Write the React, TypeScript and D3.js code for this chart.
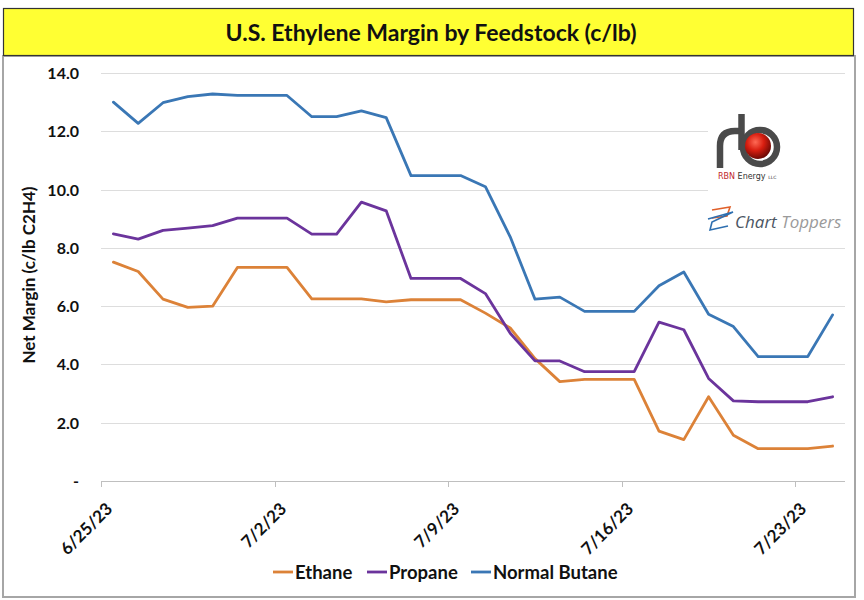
import React from "react";
import * as d3 from "d3";

const dates = [
  "2023-06-25","2023-06-26","2023-06-27","2023-06-28","2023-06-29","2023-06-30",
  "2023-07-01","2023-07-02","2023-07-03","2023-07-04","2023-07-05","2023-07-06",
  "2023-07-07","2023-07-08","2023-07-09","2023-07-10","2023-07-11","2023-07-12",
  "2023-07-13","2023-07-14","2023-07-15","2023-07-16","2023-07-17","2023-07-18",
  "2023-07-19","2023-07-20","2023-07-21","2023-07-22","2023-07-23","2023-07-24",
];
const ethane = [7.51,7.19,6.24,5.96,6.0,7.33,7.33,7.33,6.25,6.25,6.25,6.15,6.22,6.22,6.22,5.76,5.25,4.2,3.41,3.49,3.49,3.49,1.71,1.42,2.89,1.57,1.11,1.11,1.11,1.2];
const propane = [8.48,8.3,8.6,8.68,8.76,9.02,9.02,9.02,8.47,8.47,9.57,9.27,6.95,6.95,6.95,6.43,5.07,4.12,4.12,3.75,3.75,3.75,5.45,5.19,3.52,2.75,2.72,2.72,2.72,2.89];
const butane = [13.0,12.27,12.98,13.19,13.28,13.23,13.23,13.23,12.5,12.5,12.7,12.47,10.48,10.48,10.48,10.1,8.38,6.24,6.31,5.82,5.82,5.82,6.7,7.17,5.72,5.3,4.27,4.27,4.27,5.7];
const seriesNames = ["Ethane", "Propane", "Normal Butane"];
const seriesColors = ["#DC8238", "#6B349C", "#3A77B5"];
const tickDates = ["2023-06-25","2023-07-02","2023-07-09","2023-07-16","2023-07-23"];
const tickLabels = ["6/25/23","7/2/23","7/9/23","7/16/23","7/23/23"];
const yTicks = [0, 2, 4, 6, 8, 10, 12, 14];

const parse = d3.utcParse("%Y-%m-%d");
const FONT = "Lato, 'Open Sans', sans-serif";

export default function App() {
  const left = 101, right = 845, top = 73, bottom = 481;
  const x = d3.scaleUtc()
    .domain([parse("2023-06-25")!, parse("2023-07-25")!])
    .range([left, right]);
  const y = d3.scaleLinear().domain([0, 14]).range([bottom, top]);
  const allSeries = [ethane, propane, butane];
  const line = d3.line<number>()
    .x((_, i) => x(d3.utcHour.offset(parse(dates[i])!, 12)))
    .y((v) => y(v));

  const legendX = [273, 367, 471];

  return (
    <div style={{ position: "absolute", left: 0, top: 0 }}>
      <svg width={864} height={600} style={{ display: "block", background: "#fff" }}>
        {/* outer frame */}
        <rect x={3} y={56} width={852} height={541} fill="#fff" stroke="#A6A6A6" strokeWidth={2} />
        {/* title box */}
        <rect x={3.5} y={8.5} width={850} height={47} fill="#FFFF33" stroke="#333" strokeWidth={1.2} />
        <text x={431} y={41} textAnchor="middle" fontFamily={FONT} fontWeight={700} fontSize={23} fill="#111">
          U.S. Ethylene Margin by Feedstock (c/lb)
        </text>

        {/* gridlines */}
        {yTicks.map((t) => (
          <line key={t} x1={left} x2={right} y1={Math.round(y(t)) + 0.5} y2={Math.round(y(t)) + 0.5}
            stroke={t === 0 ? "#BFBFBF" : "#DDDDDD"} strokeWidth={1} />
        ))}
        {/* y tick labels */}
        {yTicks.map((t) => (
          <text key={"l" + t} x={79} y={y(t) + 6} textAnchor="end" fontFamily={FONT} fontWeight={700} fontSize={16} fill="#111">
            {t === 0 ? "-" : t.toFixed(1)}
          </text>
        ))}
        <text transform={`translate(35,${(top + bottom) / 2 - 2}) rotate(-90)`} textAnchor="middle"
          fontFamily={FONT} fontWeight={700} fontSize={17} fill="#111">
          Net Margin (c/lb C2H4)
        </text>

        {/* x ticks and labels */}
        {tickDates.map((d, i) => {
          const xx = Math.round(x(parse(d)!)) + 0.5;
          return (
            <g key={d}>
              <line x1={xx} x2={xx} y1={bottom} y2={bottom + 6} stroke="#BFBFBF" />
              <text transform={`translate(${xx + 12},${bottom + 29}) rotate(-45)`} textAnchor="end"
                fontFamily={FONT} fontWeight={700} fontSize={17} fill="#111">
                {tickLabels[i]}
              </text>
            </g>
          );
        })}

        {/* logo background */}
        <rect x={708} y={100} width={139} height={143} fill="#fff" />
        {/* RBN logo */}
        <g>
          <defs>
            <radialGradient id="redball" cx="40%" cy="35%" r="65%">
              <stop offset="0%" stopColor="#FF6A55" />
              <stop offset="50%" stopColor="#D81E10" />
              <stop offset="100%" stopColor="#6E0A05" />
            </radialGradient>
          </defs>
          <path d="M720 168 L720 146 Q720 131 735 131 L741 131" fill="none" stroke="#4A4A4A" strokeWidth={6.5} />
          <path d="M741.5 114 L741.5 150" fill="none" stroke="#4A4A4A" strokeWidth={6.5} />
          <circle cx={760} cy={147} r={17} fill="none" stroke="#4A4A4A" strokeWidth={6.5} />
          <circle cx={758} cy={146} r={13} fill="url(#redball)" />
          <text x={718} y={179} fontFamily="'DejaVu Sans', sans-serif" fontSize={8} fill="#333">
            <tspan fill="#C0272D">RBN</tspan> Energy <tspan fontSize={4.5}>LLC</tspan>
          </text>
        </g>
        {/* Chart Toppers logo */}
        <g>
          <path d="M712 210 L730 207 L727 216 L712 218" fill="none" stroke="#E0602A" strokeWidth={1.6} />
          <path d="M708 219 L733 212 L712 222 L710 230 L728 226" fill="none" stroke="#2E6FB0" strokeWidth={1.6} />
          <text x={735} y={228} fontFamily="'Open Sans', sans-serif" fontStyle="italic" fontSize={17}>
            <tspan fill="#4B5563">Chart</tspan>
            <tspan fill="#9A9A9A"> Toppers</tspan>
          </text>
        </g>

        {/* lines */}
        {allSeries.map((s, i) => (
          <path key={i} d={line(s) || ""} fill="none" stroke={seriesColors[i]} strokeWidth={2.8}
            strokeLinejoin="round" strokeLinecap="round" />
        ))}

        {/* legend */}
        {seriesNames.map((name, i) => (
          <g key={name}>
            <line x1={legendX[i]} x2={legendX[i] + 20} y1={572} y2={572} stroke={seriesColors[i]} strokeWidth={2.8} />
            <text x={legendX[i] + 22} y={579} fontFamily={FONT} fontWeight={700} fontSize={18.5} fill="#111">
              {name}
            </text>
          </g>
        ))}
      </svg>
    </div>
  );
}
